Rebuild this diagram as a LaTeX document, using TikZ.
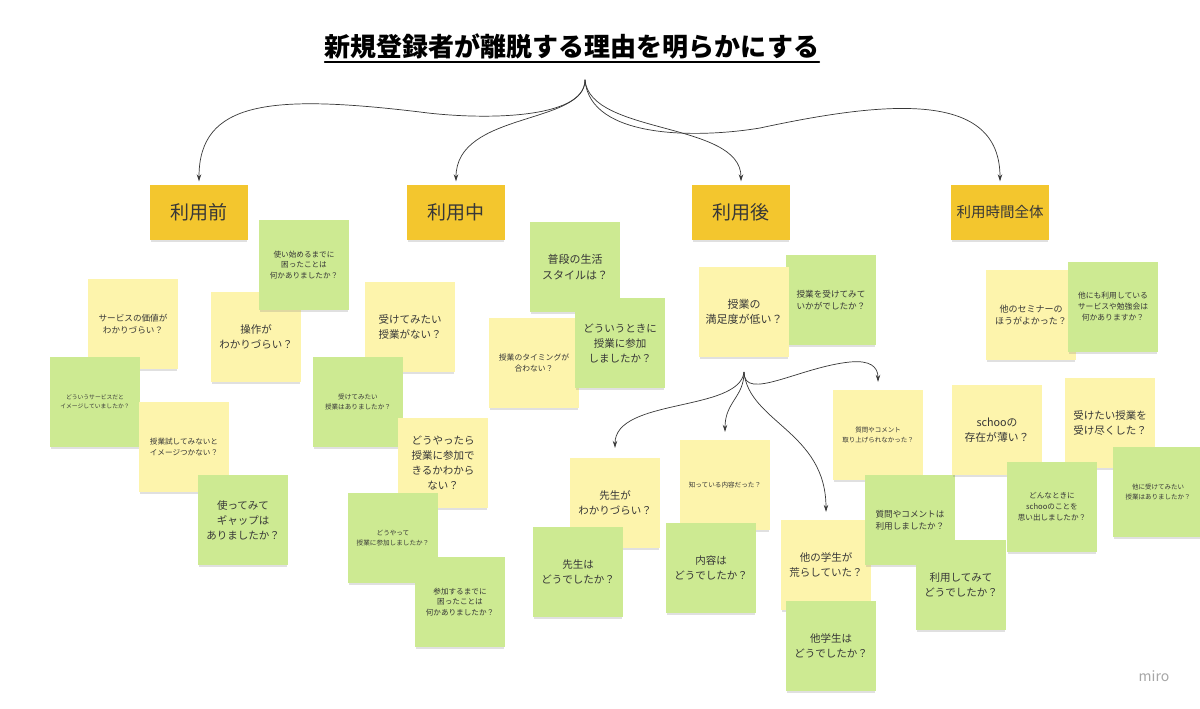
\documentclass[tikz,border=0pt]{standalone}
\usepackage{fontspec}
\setmainfont{Noto Sans CJK JP}
\usetikzlibrary{shadows,arrows.meta}
\definecolor{fusenY}{RGB}{253,244,172}
\definecolor{fusenG}{RGB}{205,234,146}
\definecolor{fusenH}{RGB}{243,198,46}
\definecolor{moji}{RGB}{55,55,55}
\begin{document}
\begin{tikzpicture}[x=1pt,y=-1pt,>={Stealth[length=7pt,width=4.5pt]},line join=round,line cap=round,
	fusen/.style={minimum width=90,minimum height=90,inner sep=1pt,align=center,text=moji,
		drop shadow={shadow xshift=0pt,shadow yshift=-3.5pt,shadow scale=0.97,opacity=0.24}},
	ki/.style={fusen,fill=fusenY},
	midori/.style={fusen,fill=fusenG},
	midashi/.style={fusen,fill=fusenH,minimum width=98,minimum height=55,font=\fontsize{19}{19}\selectfont},
	dai/.style={font=\fontsize{10.5}{15}\selectfont},
	chu/.style={font=\fontsize{8.6}{12}\selectfont},
	sho/.style={font=\fontsize{7.6}{10.8}\selectfont},
	goku/.style={font=\fontsize{6.6}{9.5}\selectfont},
	ya/.style={->,draw=moji,line width=0.7pt}]
	\useasboundingbox (0,0) rectangle (1200,709);
	\fill[white] (0,0) rectangle (1200,709);
	% タイトル
	\node[inner sep=0,text=black,font=\fontsize{26}{26}\selectfont\bfseries] (title) at (572,46) {新規登録者が離脱する理由を明らかにする};
	\draw[line width=1.6pt] ([yshift=-3pt]title.south west) -- ([yshift=-3pt]title.south east);
	\coordinate (ne) at (585,80);
	% 見出し
	\node[midashi] (mae) at (199,212) {利用前};
	\node[midashi] (naka) at (456,212) {利用中};
	\node[midashi] (ato) at (741,212) {利用後};
	\node[midashi,font=\fontsize{14.5}{15}\selectfont] (zentai) at (1000,212) {利用時間全体};
	\draw[ya] (ne) .. controls +(0,40) and +(60,8) .. (420,112) .. controls +(-150,-18) and +(0,-80) .. ([yshift=3pt]mae.north);
	\draw[ya] (ne) .. controls +(0,45) and +(0,-70) .. ([yshift=3pt]naka.north);
	\draw[ya] (ne) .. controls +(5,55) and +(0,-60) .. ([yshift=3pt]ato.north);
	\draw[ya] (ne) .. controls +(5,60) and +(-60,10) .. (760,128) .. controls +(130,-28) and +(0,-90) .. ([yshift=3pt]zentai.north);
	% 利用前
	\node[ki,dai] (sousa) at (256,337) {操作が\\わかりづらい？};
	\node[midori,sho] (komatta) at (304,265) {使い始めるまでに\\困ったことは\\何かありましたか？};
	\node[ki,chu] (kachi) at (133,324) {サービスの価値が\\わかりづらい？};
	\node[midori,font=\fontsize{5.8}{8.6}\selectfont] (image) at (95,402) {どういうサービスだと\\イメージしていましたか？};
	\node[ki,sho] (tameshi) at (184,447) {授業試してみないと\\イメージつかない？};
	\node[midori,dai] (gap) at (243,520) {使ってみて\\ギャップは\\ありましたか？};
	% 利用中
	\node[ki,dai] (nai) at (410,327) {受けてみたい\\授業がない？};
	\node[midori,goku] (atta) at (358,402) {受けてみたい\\授業はありましたか？};
	\node[ki,dai] (douyattara) at (443,463) {どうやったら\\授業に参加で\\きるかわから\\ない？};
	\node[midori,goku] (douyatte) at (393,538) {どうやって\\授業に参加しましたか？};
	\node[midori,sho] (sanka) at (460,602) {参加するまでに\\困ったことは\\何かありましたか？};
	\node[midori,font=\fontsize{11}{15.5}\selectfont] (seikatsu) at (575,267) {普段の生活\\スタイルは？};
	\node[ki,font=\fontsize{7.8}{11}\selectfont] (timing) at (534,363) {授業のタイミングが\\合わない？};
	\node[midori,dai] (toki) at (620,343) {どういうときに\\授業に参加\\しましたか？};
	% 利用後
	\node[midori,chu] (ikaga) at (831,300) {授業を受けてみて\\いかがでしたか？};
	\node[ki,font=\fontsize{11}{15.5}\selectfont] (manzoku) at (744,312) {授業の\\満足度が低い？};
	\coordinate (eda) at ([yshift=-15pt]manzoku.south);
	\node[ki,dai] (sensei) at (615,503) {先生が\\わかりづらい？};
	\node[ki,goku] (shitte) at (725,485) {知っている内容だった？};
	\node[midori,dai] (senseiha) at (578,572) {先生は\\どうでしたか？};
	\node[midori,dai] (naiyou) at (711,568) {内容は\\どうでしたか？};
	\node[ki,dai] (arashi) at (826,565) {他の学生が\\荒らしていた？};
	\node[midori,dai] (tagakusei) at (831,646) {他学生は\\どうでしたか？};
	\node[ki,font=\fontsize{6.5}{9.5}\selectfont] (toriage) at (878,435) {質問やコメント\\取り上げられなかった？};
	\node[midori,chu] (comment) at (910,520) {質問やコメントは\\利用しましたか？};
	\node[midori,dai] (riyou) at (961,585) {利用してみて\\どうでしたか？};
	\draw[ya] (eda) .. controls +(-5,40) and +(0,-50) .. ([yshift=10pt]sensei.north);
	\draw[ya] (eda) .. controls +(0,25) and +(0,-30) .. ([yshift=8pt]shitte.north);
	\draw[ya] (eda) .. controls +(5,50) and +(0,-80) .. ([yshift=8pt]arashi.north);
	\draw[ya] (eda) .. controls +(0,30) and +(-50,5) .. (850,362) .. controls +(20,-2) and +(0,-15) .. ([yshift=8pt]toriage.north);
	% 利用時間全体
	\node[ki,font=\fontsize{9}{12.5}\selectfont] (seminar) at (1031,315) {他のセミナーの\\ほうがよかった？};
	\node[midori,font=\fontsize{7.8}{11}\selectfont] (benkyoukai) at (1113,307) {他にも利用している\\サービスや勉強会は\\何かありますか？};
	\node[ki,font=\fontsize{10.8}{15}\selectfont] (sonzai) at (997,430) {schooの\\存在が薄い？};
	\node[ki,dai] (tsukushi) at (1110,423) {受けたい授業を\\受け尽くした？};
	\node[midori,sho] (omoidashi) at (1052,507) {どんなときに\\schooのことを\\思い出しましたか？};
	\node[midori,font=\fontsize{6.5}{9.5}\selectfont] (hoka) at (1158,492) {他に受けてみたい\\授業はありましたか？};
	\node[text=gray!70,font=\fontsize{14}{14}\selectfont] (miro) at (1154,676) {miro};
\end{tikzpicture}
\end{document}
